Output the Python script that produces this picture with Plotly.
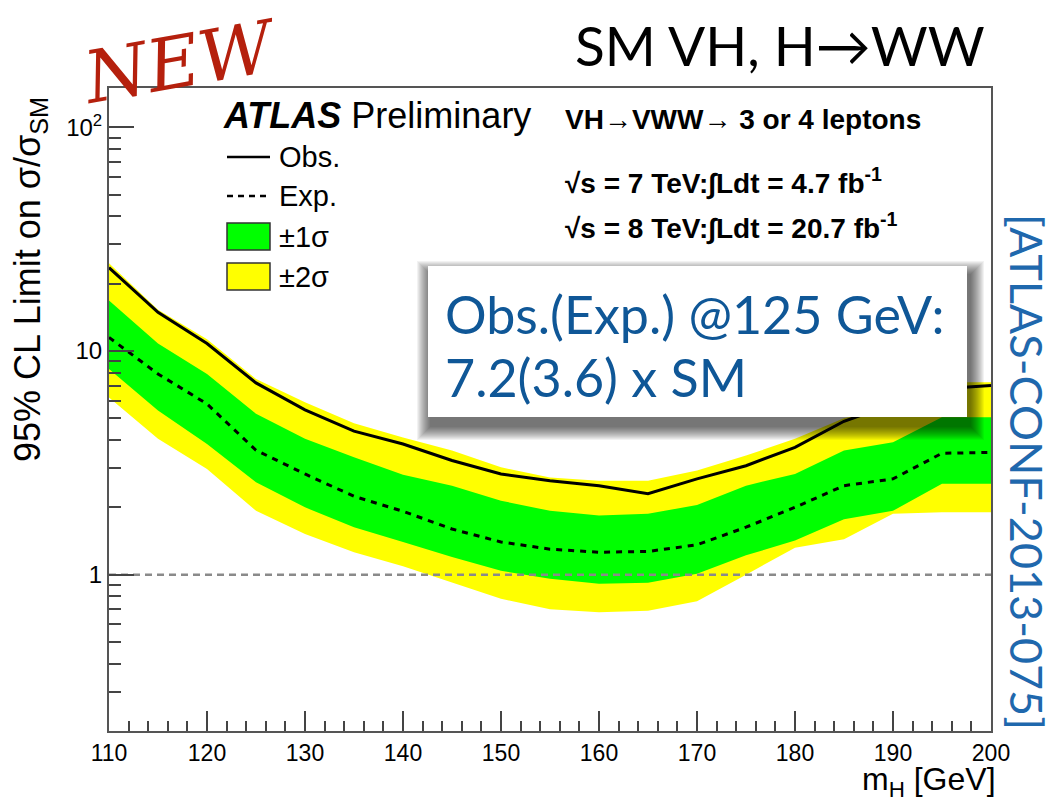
import plotly.graph_objects as go

# Higgs mass points [GeV]
mass = [110, 115, 120, 125, 130, 135, 140, 145, 150, 155,
        160, 165, 170, 175, 180, 185, 190, 195, 200]

# 95% CL upper limits on sigma/sigma_SM
obs_limit = [23.6, 14.9, 10.8, 7.2, 5.46, 4.38, 3.84, 3.24, 2.82, 2.63,
             2.50, 2.30, 2.68, 3.07, 3.71, 4.85, 5.8, 6.78, 7.01]
exp_limit = [11.5, 7.9, 5.8, 3.6, 2.82, 2.24, 1.92, 1.60, 1.40, 1.30,
             1.26, 1.27, 1.36, 1.63, 2.00, 2.50, 2.68, 3.49, 3.52]
band1_hi = [16.8, 10.8, 7.9, 5.24, 4.05, 3.35, 2.80, 2.50, 2.14, 1.93,
            1.84, 1.87, 2.05, 2.50, 2.82, 3.59, 3.91, 5.06, 5.06]
band1_lo = [8.3, 5.42, 3.84, 2.59, 2.00, 1.63, 1.40, 1.20, 1.04, 0.96,
            0.91, 0.92, 1.01, 1.22, 1.42, 1.77, 1.93, 2.55, 2.55]
band2_hi = [24.7, 15.3, 11.3, 7.5, 5.9, 4.75, 4.11, 3.59, 3.02, 2.72,
            2.63, 2.63, 2.92, 3.41, 4.05, 5.0, 5.6, 7.25, 7.25]
band2_lo = [6.2, 4.05, 2.97, 1.93, 1.52, 1.26, 1.09, 0.92, 0.78, 0.70,
            0.68, 0.69, 0.76, 1.00, 1.32, 1.44, 1.87, 1.90, 1.90]

x_ticks = [110, 120, 130, 140, 150, 160, 170, 180, 190, 200]
y_tickvals = [1, 10, 100]
y_ticktext = ["1", "10", "10<sup>2</sup>"]

GREEN = "#00ff00"
YELLOW = "#ffff00"
ROOT_FONT = "Liberation Sans, Arial, sans-serif"
BLUE_TXT = "#0f5797"
ARROW = "\u2192"

W, H = 1055, 801
L, R, T, B = 109, 991, 88, 731


def fx(px):
    return (px - L) / (R - L)


def fy(py):
    return (B - py) / (B - T)


fig = go.Figure()

# +-2 sigma band
fig.add_trace(go.Scatter(x=mass, y=band2_lo, mode="lines", line=dict(width=0),
                         hoverinfo="skip", showlegend=False))
fig.add_trace(go.Scatter(x=mass, y=band2_hi, mode="lines", line=dict(width=0),
                         fill="tonexty", fillcolor=YELLOW, showlegend=False))
# +-1 sigma band
fig.add_trace(go.Scatter(x=mass, y=band1_lo, mode="lines", line=dict(width=0),
                         hoverinfo="skip", showlegend=False))
fig.add_trace(go.Scatter(x=mass, y=band1_hi, mode="lines", line=dict(width=0),
                         fill="tonexty", fillcolor=GREEN, showlegend=False))
# SM reference line
fig.add_trace(go.Scatter(x=[mass[0], mass[-1]], y=[1, 1], mode="lines",
                         line=dict(color="#8a8a8a", width=2.5, dash="7px,5px"),
                         showlegend=False))
# expected and observed limits
fig.add_trace(go.Scatter(x=mass, y=exp_limit, mode="lines",
                         line=dict(color="black", width=3, dash="6px,6px"),
                         showlegend=False))
fig.add_trace(go.Scatter(x=mass, y=obs_limit, mode="lines",
                         line=dict(color="black", width=3), showlegend=False))

shapes = []
annotations = []

# legend samples
shapes.append(dict(type="line", xref="paper", yref="paper",
                   x0=fx(227), x1=fx(270), y0=fy(157), y1=fy(157),
                   line=dict(color="black", width=2.5), layer="above"))
shapes.append(dict(type="line", xref="paper", yref="paper",
                   x0=fx(227), x1=fx(270), y0=fy(196), y1=fy(196),
                   line=dict(color="black", width=2.5, dash="6px,5px"),
                   layer="above"))
shapes.append(dict(type="rect", xref="paper", yref="paper",
                   x0=fx(227), x1=fx(270), y0=fy(250), y1=fy(223),
                   fillcolor=GREEN, line=dict(color="#333", width=1.5),
                   layer="above"))
shapes.append(dict(type="rect", xref="paper", yref="paper",
                   x0=fx(227), x1=fx(270), y0=fy(290), y1=fy(263),
                   fillcolor=YELLOW, line=dict(color="#333", width=1.5),
                   layer="above"))

legend_rows = [("Obs.", 157), ("Exp.", 196), ("\u00b11\u03c3", 237), ("\u00b12\u03c3", 277)]
for txt, yc in legend_rows:
    annotations.append(dict(text=txt, xref="paper", yref="paper",
                            x=fx(277), y=fy(yc), xanchor="left", yanchor="middle",
                            showarrow=False, font=dict(family=ROOT_FONT, size=29, color="black")))

annotations.append(dict(text="<b><i>ATLAS</i></b> Preliminary", xref="paper", yref="paper",
                        x=fx(221), y=fy(116), xanchor="left", yanchor="middle",
                        showarrow=False, font=dict(family=ROOT_FONT, size=36, color="black")))
annotations.append(dict(text="<b>VH" + ARROW + "VWW" + ARROW + " 3 or 4 leptons</b>",
                        xref="paper", yref="paper",
                        x=fx(563), y=fy(119), xanchor="left", yanchor="middle",
                        showarrow=False, font=dict(family=ROOT_FONT, size=28, color="black")))
annotations.append(dict(text="<b>\u221as = 7 TeV:\u222bLdt = 4.7 fb<sup>-1</sup></b>",
                        xref="paper", yref="paper", x=fx(563), y=fy(181),
                        xanchor="left", yanchor="middle", showarrow=False,
                        font=dict(family=ROOT_FONT, size=28, color="black")))
annotations.append(dict(text="<b>\u221as = 8 TeV:\u222bLdt = 20.7 fb<sup>-1</sup></b>",
                        xref="paper", yref="paper", x=fx(563), y=fy(226),
                        xanchor="left", yanchor="middle", showarrow=False,
                        font=dict(family=ROOT_FONT, size=28, color="black")))

# call-out box with soft drop shadow
bx0, bx1, by0, by1 = 428, 967, 266, 417
n_layers = 14
for k in range(n_layers, 0, -1):
    shapes.append(dict(type="rect", xref="paper", yref="paper",
                       x0=fx(bx0 - k + 3), x1=fx(bx1 + k + 3),
                       y0=fy(by1 + k + 9), y1=fy(by0 - k + 9),
                       fillcolor="rgba(0,0,0,0.05)", line=dict(width=0),
                       layer="above"))
shapes.append(dict(type="rect", xref="paper", yref="paper",
                   x0=fx(bx0), x1=fx(bx1), y0=fy(by1), y1=fy(by0),
                   fillcolor="white", line=dict(width=0), layer="above"))
callout_lines = [("Obs.(Exp.) @125 GeV:", 314), ("7.2(3.6) x SM", 377)]
for txt, yc in callout_lines:
    annotations.append(dict(text=txt, xref="paper", yref="paper",
                            x=fx(443), y=fy(yc), xanchor="left", yanchor="middle",
                            showarrow=False,
                            font=dict(family="Lato, Open Sans, sans-serif", size=52,
                                      color=BLUE_TXT)))

# page headings
annotations.append(dict(text="SM VH, H\u2192WW", xref="paper", yref="paper",
                        x=fx(987), y=fy(45), xanchor="right", yanchor="middle",
                        showarrow=False, font=dict(family="Lato, sans-serif", size=55, color="black")))
annotations.append(dict(text="<i>NEW</i>", xref="paper", yref="paper",
                        x=fx(180), y=fy(62), xanchor="center", yanchor="middle",
                        textangle=-10, showarrow=False,
                        font=dict(family="DejaVu Serif, serif", size=72, color="#b5200d")))
annotations.append(dict(text="[ATLAS-CONF-2013-075]", xref="paper", yref="paper",
                        x=fx(1027), y=fy(472), xanchor="center", yanchor="middle",
                        textangle=90, showarrow=False,
                        font=dict(family="Lato, sans-serif", size=45, color="#1f68ad")))

# axis titles
annotations.append(dict(text="95% CL Limit on \u03c3/\u03c3<sub>SM</sub>", xref="paper", yref="paper",
                        x=fx(30), y=fy(280), xanchor="center", yanchor="middle",
                        textangle=-90, showarrow=False,
                        font=dict(family=ROOT_FONT, size=36, color="black")))
annotations.append(dict(text="m<sub>H</sub> [GeV]", xref="paper", yref="paper",
                        x=fx(998), y=fy(781), xanchor="right", yanchor="middle",
                        showarrow=False, font=dict(family=ROOT_FONT, size=32, color="black")))

fig.update_layout(
    width=W, height=H,
    margin=dict(l=L, r=W - R, t=T, b=H - B),
    paper_bgcolor="white", plot_bgcolor="white",
    shapes=shapes, annotations=annotations,
    showlegend=False,
)
fig.update_xaxes(
    range=[110, 200], tickvals=x_ticks, ticks="inside", ticklen=20, tickwidth=2,
    tickcolor="#444", showline=True, linecolor="#555", linewidth=2, mirror=True,
    showgrid=False, zeroline=False,
    tickfont=dict(family=ROOT_FONT, size=23, color="black"),
    minor=dict(dtick=2, ticks="inside", ticklen=10, tickwidth=2, tickcolor="#444", showgrid=False),
)
fig.update_yaxes(
    type="log", range=[-0.699, 2.176], tickvals=y_tickvals, ticktext=y_ticktext,
    ticks="inside", ticklen=25, tickwidth=2, tickcolor="#444",
    showline=True, linecolor="#555", linewidth=2, mirror=True,
    showgrid=False, zeroline=False,
    tickfont=dict(family=ROOT_FONT, size=24, color="black"),
    minor=dict(dtick="D1", ticks="inside", ticklen=12, tickwidth=2, tickcolor="#444", showgrid=False),
)

fig.write_html("out.html")
